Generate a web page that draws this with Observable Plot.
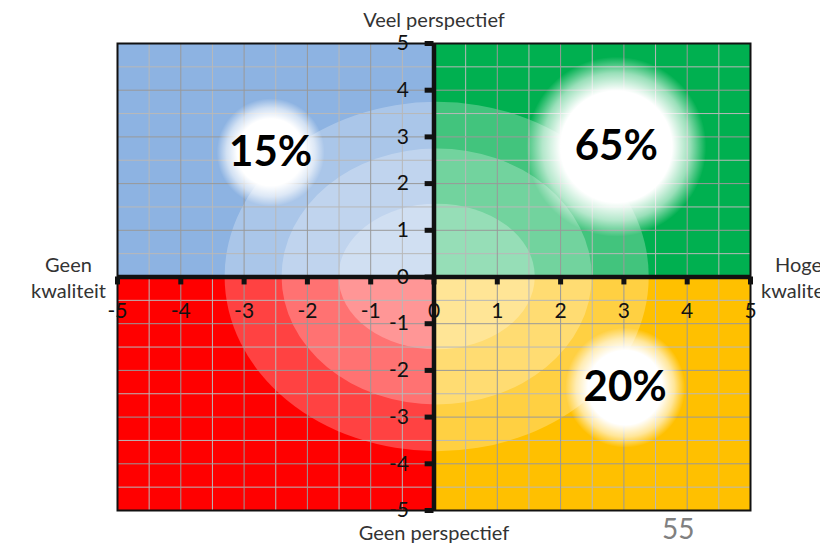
<!DOCTYPE html>
<html>
<head>
<meta charset="utf-8">
<script src="https://cdn.jsdelivr.net/npm/d3@7"></script>
<script src="https://cdn.jsdelivr.net/npm/@observablehq/plot@0.6"></script>
<style>
  html, body { margin: 0; padding: 0; background: #fff; overflow: hidden; }
  #chart svg { display: block; }
</style>
</head>
<body>
<div id="chart"></div>
<script>
// ---- data ----
const quadrantNames = ["Weinig kwaliteit, veel perspectief", "Hoge kwaliteit, veel perspectief", "Geen kwaliteit, geen perspectief", "Hoge kwaliteit, geen perspectief"];
const quadrantX1 = [-5, 0, -5, 0];
const quadrantX2 = [0, 5, 0, 5];
const quadrantY1 = [0, 0, -5, -5];
const quadrantY2 = [5, 5, 0, 0];

const shareLabels = ["15%", "65%", "20%"];
const shareX = [-2.58, 2.88, 3.02];
const shareY = [2.67, 2.79, -2.37];

const ellipseCx = 0.05;
const ellipseCy = 0;
const ellipseRx = [3.35, 2.45, 1.55];
const ellipseRy = [3.74, 2.74, 1.56];

const intTicks = [-5, -4, -3, -2, -1, 0, 1, 2, 3, 4, 5];
const halfTicks = [-4.5, -3.5, -2.5, -1.5, -0.5, 0.5, 1.5, 2.5, 3.5, 4.5];

const titleTop = "Veel perspectief";
const titleBottom = "Geen perspectief";
const titleLeft = "Geen\nkwaliteit";
const titleRight = "Hoge\nkwaliteit";
const pageNumber = "55";

// ---- styles ----
const quadrantColors = ["#8DB3E2", "#00B050", "#FF0000", "#FFC000"];
const glowRadius = [54, 90, 60];

const quadrants = quadrantNames.map((name, i) => ({
  name, x1: quadrantX1[i], x2: quadrantX2[i], y1: quadrantY1[i], y2: quadrantY2[i]
}));
const shares = shareLabels.map((label, i) => ({label, x: shareX[i], y: shareY[i], i}));

const chart = Plot.plot({
  width: 820,
  height: 544,
  marginLeft: 117,
  marginRight: 70,
  marginTop: 43,
  marginBottom: 34,
  x: {domain: [-5, 5], axis: null},
  y: {domain: [-5, 5], axis: null},
  r: {type: "identity"},
  style: {fontFamily: "Lato, 'Open Sans', sans-serif", background: "#fff", overflow: "hidden"},
  marks: [
    () => {
      const defs = d3.create("svg:defs");
      const g = defs.append("radialGradient").attr("id", "glow");
      g.append("stop").attr("offset", "0%").attr("stop-color", "#fff").attr("stop-opacity", 1);
      g.append("stop").attr("offset", "62%").attr("stop-color", "#fff").attr("stop-opacity", 1);
      g.append("stop").attr("offset", "82%").attr("stop-color", "#fff").attr("stop-opacity", 0.6);
      g.append("stop").attr("offset", "100%").attr("stop-color", "#fff").attr("stop-opacity", 0);
      return defs.node();
    },
    Plot.rect(quadrants, {x1: "x1", x2: "x2", y1: "y1", y2: "y2", fill: (d, i) => quadrantColors[i]}),
    (index, scales, values, dimensions) => {
      const sx = scales && scales.x ? scales.x : d3.scaleLinear([-5, 5], [dimensions.marginLeft, dimensions.width - dimensions.marginRight]);
      const sy = scales && scales.y ? scales.y : d3.scaleLinear([-5, 5], [dimensions.height - dimensions.marginBottom, dimensions.marginTop]);
      const g = d3.create("svg:g").attr("fill", "#fff").attr("fill-opacity", 0.26);
      ellipseRx.forEach((rx, i) => {
        const cx = sx(ellipseCx), cy = sy(ellipseCy);
        g.append("ellipse")
          .attr("cx", cx).attr("cy", cy)
          .attr("rx", Math.abs(sx(ellipseCx + rx) - cx))
          .attr("ry", Math.abs(cy - sy(ellipseCy + ellipseRy[i])));
      });
      return g.node();
    },
    Plot.ruleX(halfTicks, {x: d => d, stroke: "#b8b8b8", strokeWidth: 1}),
    Plot.ruleY(halfTicks, {y: d => d, stroke: "#b8b8b8", strokeWidth: 1}),
    Plot.ruleX(intTicks, {x: d => d, stroke: "#999", strokeWidth: 1}),
    Plot.ruleY(intTicks, {y: d => d, stroke: "#999", strokeWidth: 1}),
    Plot.dot(shares, {x: "x", y: "y", r: d => glowRadius[d.i], fill: "url(#glow)", stroke: null}),
    Plot.frame({stroke: "#111", strokeWidth: 2}),
    Plot.ruleX([0], {stroke: "#111", strokeWidth: 4.5}),
    Plot.ruleY([0], {stroke: "#111", strokeWidth: 4.5}),
    Plot.ruleY(intTicks, {y: d => d, x1: -0.14, x2: 0, stroke: "#111", strokeWidth: 5}),
    Plot.ruleX(intTicks, {x: d => d, y1: 0, y2: -0.17, stroke: "#111", strokeWidth: 5}),
    Plot.text(intTicks, {x: 0, y: d => d, text: d => String(d), dx: -25, textAnchor: "end", fontSize: 21, fill: "#111"}),
    Plot.text(intTicks, {x: d => d, y: 0, text: d => String(d), dy: 34, textAnchor: "middle", fontSize: 21, fill: "#111"}),
    Plot.text(shares, {x: "x", y: "y", text: "label", fontSize: 42, fontWeight: "bold", fill: "#000"}),
    Plot.text([titleTop], {x: 0, y: 5, text: d => d, dy: -23, fontSize: 20, fill: "#333"}),
    Plot.text([titleBottom], {x: 0, y: -5, text: d => d, dy: 23, fontSize: 20, fill: "#333"}),
    Plot.text([titleLeft], {x: -5, y: 0, text: d => d, dx: -49, fontSize: 20, lineHeight: 1.3, fill: "#333"}),
    Plot.text([titleRight], {x: 5, y: 0, text: d => d, dx: 48, fontSize: 20, lineHeight: 1.3, fill: "#333"}),
    Plot.text([pageNumber], {x: 3.86, y: -5, text: d => d, dy: 20, fontSize: 28, fill: "#808080"})
  ]
});
document.getElementById("chart").appendChild(chart);
</script>
</body>
</html>
